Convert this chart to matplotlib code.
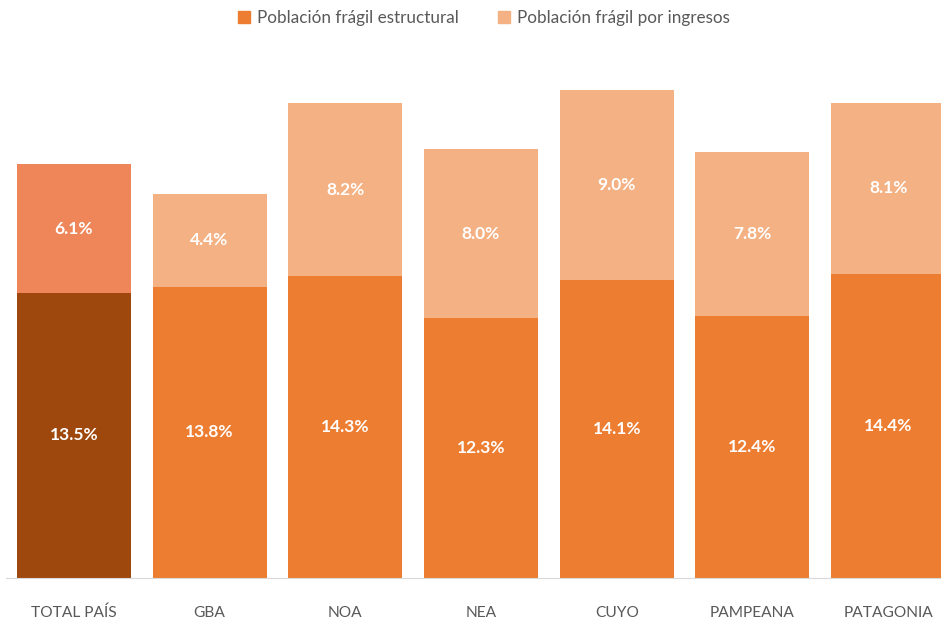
import matplotlib.pyplot as plt

# data
regiones = ["TOTAL PAÍS", "GBA", "NOA", "NEA", "CUYO", "PAMPEANA", "PATAGONIA"]
estructural = [13.5, 13.8, 14.3, 12.3, 14.1, 12.4, 14.4]
ingresos = [6.1, 4.4, 8.2, 8.0, 9.0, 7.8, 8.1]

plt.rcParams['font.family'] = ['Lato', 'DejaVu Sans']

col_est = ["#9E480E"] + ["#ED7D31"] * 6
col_ing = ["#EE8659"] + ["#F4B183"] * 6

fig = plt.figure(figsize=(9.41, 6.21), dpi=100)
ax = fig.add_axes([6 / 941, 43 / 621, 950 / 941, 531 / 621])

x = range(len(regiones))
b1 = ax.bar(x, estructural, width=0.84, color=col_est, label="Población frágil estructural")
b2 = ax.bar(x, ingresos, width=0.84, bottom=estructural, color=col_ing,
            label="Población frágil por ingresos")

for i in x:
    ax.text(i, estructural[i] / 2, f"{estructural[i]:.1f}%", ha="center", va="center",
            color="white", fontsize=12.5, fontweight="bold")
    ax.text(i, estructural[i] + ingresos[i] / 2, f"{ingresos[i]:.1f}%", ha="center",
            va="center", color="white", fontsize=12.5, fontweight="bold")

ax.set_xlim(-0.5, 6.5)
ax.set_ylim(0, 25.15)
ax.set_yticks([])
ax.set_xticks(list(x))
ax.set_xticklabels(regiones, fontsize=11.2, color="#595959")
ax.tick_params(axis="x", length=0, pad=20)
for s in ["top", "right", "left"]:
    ax.spines[s].set_visible(False)
ax.spines["bottom"].set_color("#D9D9D9")

# legend colours follow the regional bars
h1 = plt.Rectangle((0, 0), 1, 1, color="#ED7D31")
h2 = plt.Rectangle((0, 0), 1, 1, color="#F4B183")
fig.legend([h1, h2], ["Población frágil estructural", "Población frágil por ingresos"],
           loc="upper center", bbox_to_anchor=(484 / 941, 1.008), ncol=2, frameon=False,
           fontsize=12.3, handlelength=0.7, handleheight=0.7, handletextpad=0.4,
           columnspacing=2.3, labelcolor="#595959")

fig.savefig("out.png", dpi=100)
